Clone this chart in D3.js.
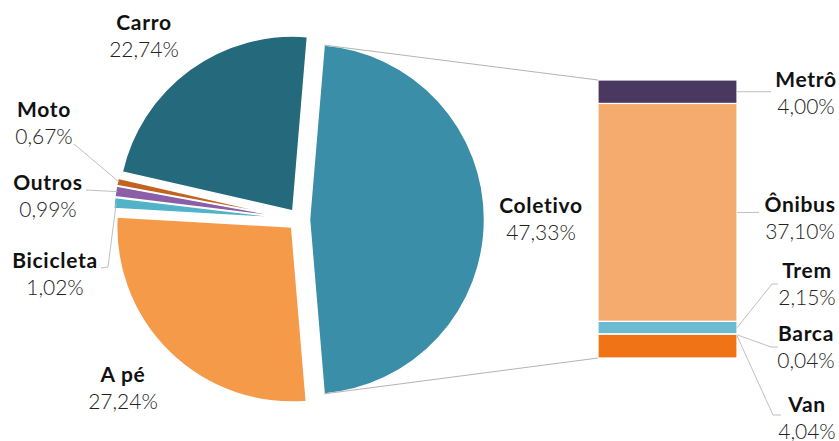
<!DOCTYPE html>
<html>
<head>
<meta charset="utf-8">
<script src="https://cdn.jsdelivr.net/npm/d3@7"></script>
<style>
  html, body { margin: 0; padding: 0; background: #fff; }
  svg { display: block; font-family: Lato, "Noto Sans", sans-serif; }
  .name { font-weight: 700; fill: #111; font-size: 21px; letter-spacing: 0.7px; }
  .val { font-weight: 300; fill: #222; font-size: 21px; }
</style>
</head>
<body>
<svg id="chart" width="839" height="441"></svg>
<script>
// Modal split: main pie (clockwise from the exploded "Coletivo" slice)
const pieNames  = ["Coletivo", "A pé", "Bicicleta", "Outros", "Moto", "Carro"];
const pieValues = [47.33, 27.24, 1.02, 0.99, 0.67, 22.74];
const pieColors = ["#3a8ea8", "#f59a48", "#52b2c8", "#8b5fa8", "#c0641f", "#256a7c"];

// Breakdown of "Coletivo" (stacked from top to bottom)
const barNames  = ["Metrô", "Ônibus", "Trem", "Barca", "Van"];
const barValues = [4.00, 37.10, 2.15, 0.04, 4.04];
const barColors = ["#4b3860", "#f6ab6e", "#6cbbd0", "#5aa9c0", "#f07416"];

const fmt = v => d3.format(".2f")(v).replace(".", ",") + "%";

const svg = d3.select("#chart");

// ---- layout ----
const cx = 299, cy = 219.5, R = 175, explode = 10.5;
const barX = 598, barW = 139, barTop = 80, barBottom = 358;

// ---- pie ----
const total = d3.sum(pieValues);
const colAngle = pieValues[0] / total * 2 * Math.PI;
const start = Math.PI / 2 - colAngle / 2;

const pie = d3.pie().sort(null).value(d => d.v)
  .startAngle(start).endAngle(start + 2 * Math.PI);
const arcs = pie(pieNames.map((n, i) => ({ n, v: pieValues[i], c: pieColors[i] })));
const arc = d3.arc().innerRadius(0).outerRadius(R);

function offset(a) {
  const m = (a.startAngle + a.endAngle) / 2;
  return [Math.sin(m) * explode, -Math.cos(m) * explode];
}

const gPie = svg.append("g").attr("transform", `translate(${cx},${cy})`);
gPie.selectAll("path").data(arcs).join("path")
  .attr("transform", d => `translate(${offset(d)})`)
  .attr("d", arc)
  .attr("fill", d => d.data.c)
  .attr("stroke", "#fff")
  .attr("stroke-width", 1.5)
  .attr("stroke-linejoin", "round");

// ---- stacked bar ----
const y = d3.scaleLinear().domain([0, d3.sum(barValues)]).range([barTop, barBottom]);
let acc = 0;
const segs = barValues.map((v, i) => {
  const s = { n: barNames[i], v, c: barColors[i], y0: acc, y1: acc + v };
  acc += v;
  return s;
});
svg.append("g").selectAll("rect").data(segs).join("rect")
  .attr("x", barX).attr("width", barW)
  .attr("y", d => y(d.y0)).attr("height", d => Math.max(0.6, y(d.y1) - y(d.y0)))
  .attr("fill", d => d.c)
  .attr("stroke", "#fff").attr("stroke-width", 1.2);

// ---- connectors from the exploded slice to the bar ----
const col = arcs[0];
const co = offset(col);
const pTop = [cx + co[0] + R * Math.sin(col.startAngle), cy + co[1] - R * Math.cos(col.startAngle)];
const pBot = [cx + co[0] + R * Math.sin(col.endAngle), cy + co[1] - R * Math.cos(col.endAngle)];
const conn = svg.append("g").attr("stroke", "#aaa").attr("stroke-width", 0.9).attr("fill", "none");
conn.append("line").attr("x1", pTop[0]).attr("y1", pTop[1]).attr("x2", barX).attr("y2", y(0));
conn.append("line").attr("x1", pBot[0]).attr("y1", pBot[1]).attr("x2", barX).attr("y2", y(acc));

// ---- labels ----
function label(x, yb, name, value, anchor) {
  const g = svg.append("g");
  g.append("text").attr("class", "name").attr("x", x).attr("y", yb)
    .attr("text-anchor", anchor || "middle").text(name);
  g.append("text").attr("class", "val").attr("x", x).attr("y", yb + 26.5)
    .attr("text-anchor", anchor || "middle").text(fmt(value));
}

// pie label spots (text centre x, name baseline)
const pieLabelPos = {
  "Coletivo": [541, 213],
  "A pé": [123, 382],
  "Bicicleta": [55, 268],
  "Outros": [48, 190],
  "Moto": [44, 117],
  "Carro": [144, 30]
};
arcs.forEach(a => {
  const p = pieLabelPos[a.data.n];
  label(p[0], p[1], a.data.n, a.data.v);
});

// bar label spots
const barLabelPos = {
  "Metrô": [806, 87],
  "Ônibus": [800, 212],
  "Trem": [807, 278],
  "Barca": [806, 341],
  "Van": [807, 412]
};
segs.forEach(s => {
  const p = barLabelPos[s.n];
  label(p[0], p[1], s.n, s.v);
});

// ---- leader lines ----
const leader = svg.append("g").attr("stroke", "#b8b8b8").attr("stroke-width", 0.9).attr("fill", "none");
const line = d3.line();

// small pie slices: point on each slice near the rim
function rimPoint(name, r) {
  const a = arcs.find(d => d.data.n === name);
  const o = offset(a);
  const m = (a.startAngle + a.endAngle) / 2;
  return [cx + o[0] + r * Math.sin(m), cy + o[1] - r * Math.cos(m)];
}
const pMoto = rimPoint("Moto", R - 2);
const pOut = rimPoint("Outros", R - 2);
const pBic = rimPoint("Bicicleta", R - 2);
leader.append("path").attr("d", line([[74, 144], pMoto]));
leader.append("path").attr("d", line([[86, 190], pOut]));
leader.append("path").attr("d", line([pBic, [108, 267], [101, 268]]));

// bar segments: from the right edge to the label
const bx = barX + barW;
const mid = s => (y(s.y0) + y(s.y1)) / 2;
leader.append("path").attr("d", line([[bx, mid(segs[0])], [771, mid(segs[0])]]));
leader.append("path").attr("d", line([[bx, mid(segs[1])], [759, mid(segs[1])]]));
leader.append("path").attr("d", line([[bx, mid(segs[2])], [772, 284], [778, 284]]));
leader.append("path").attr("d", line([[bx, y(segs[3].y1) + 0.5], [771, 347], [778, 347]]));
leader.append("path").attr("d", line([[bx, y(segs[4].y0) + 1.5], [773, 415], [781, 415]]));
</script>
</body>
</html>
